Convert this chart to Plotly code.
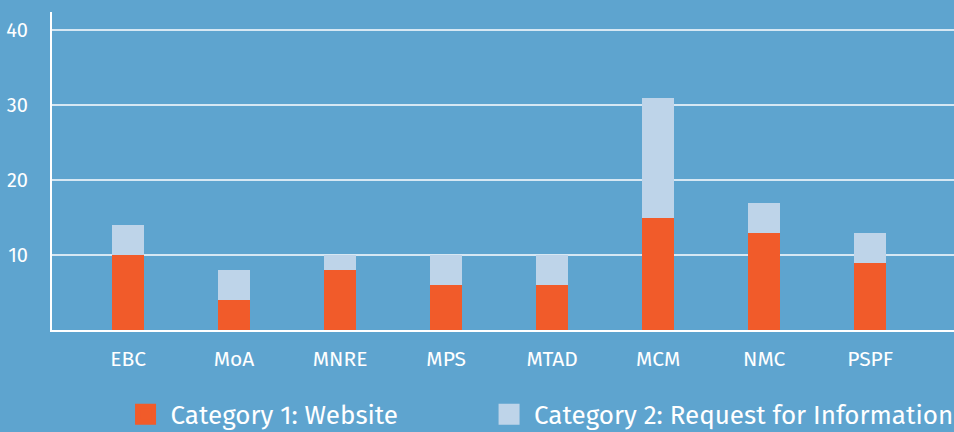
import plotly.graph_objects as go

categories = ["EBC", "MoA", "MNRE", "MPS", "MTAD", "MCM", "NMC", "PSPF"]
website = [10, 4, 8, 6, 6, 15, 13, 9]
request_info = [4, 4, 2, 4, 4, 16, 4, 4]
series_names = ["Category 1: Website", "Category 2: Request for Information"]
y_ticks = [10, 20, 30, 40]

BG = "#5EA4CF"
ORANGE = "#F15B2A"
LIGHT = "#BED4E9"
FONT = "Fira Sans, Open Sans, sans-serif"

fig = go.Figure()
fig.add_trace(go.Bar(x=categories, y=website, marker=dict(color=ORANGE, line=dict(width=0)),
                     width=0.3, showlegend=False, name=series_names[0]))
fig.add_trace(go.Bar(x=categories, y=request_info, marker=dict(color=LIGHT, line=dict(width=0)),
                     width=0.3, showlegend=False, name=series_names[1]))
# legend proxies (larger square symbols), one legend each
for name, col, lg in zip(series_names, [ORANGE, LIGHT], ["legend", "legend2"]):
    fig.add_trace(go.Scatter(x=[None], y=[None], mode="markers", name=name, legend=lg,
                             marker=dict(symbol="square", size=16, color=col,
                                         line=dict(color=col, width=5))))

leg_common = dict(orientation="h", y=-0.265, yanchor="middle", xanchor="left",
                  font=dict(size=26, color="white", family=FONT),
                  bgcolor="rgba(0,0,0,0)", itemwidth=40)
fig.update_layout(
    barmode="stack",
    width=954, height=432,
    paper_bgcolor=BG, plot_bgcolor=BG,
    margin=dict(l=52, r=0, t=12, b=102, autoexpand=False),
    font=dict(family=FONT, color="white", size=20),
    legend=dict(x=0.076, **leg_common),
    legend2=dict(x=0.479, **leg_common),
    xaxis=dict(range=[-0.717, 7.79], showline=True, linecolor="white", linewidth=2,
               showgrid=False, ticks="", ticklabelstandoff=9,
               tickfont=dict(size=21, color="white")),
    yaxis=dict(range=[0, 42.47], tickvals=y_ticks, showline=True, linecolor="white",
               linewidth=2, showgrid=True, gridcolor="#D6E7F3", gridwidth=1.5,
               zeroline=False, ticks="", ticklabelstandoff=18,
               tickfont=dict(size=20, color="white")),
)

fig.write_html("out.html", config={"displayModeBar": False},
               post_script="document.body.style.margin='0';")
